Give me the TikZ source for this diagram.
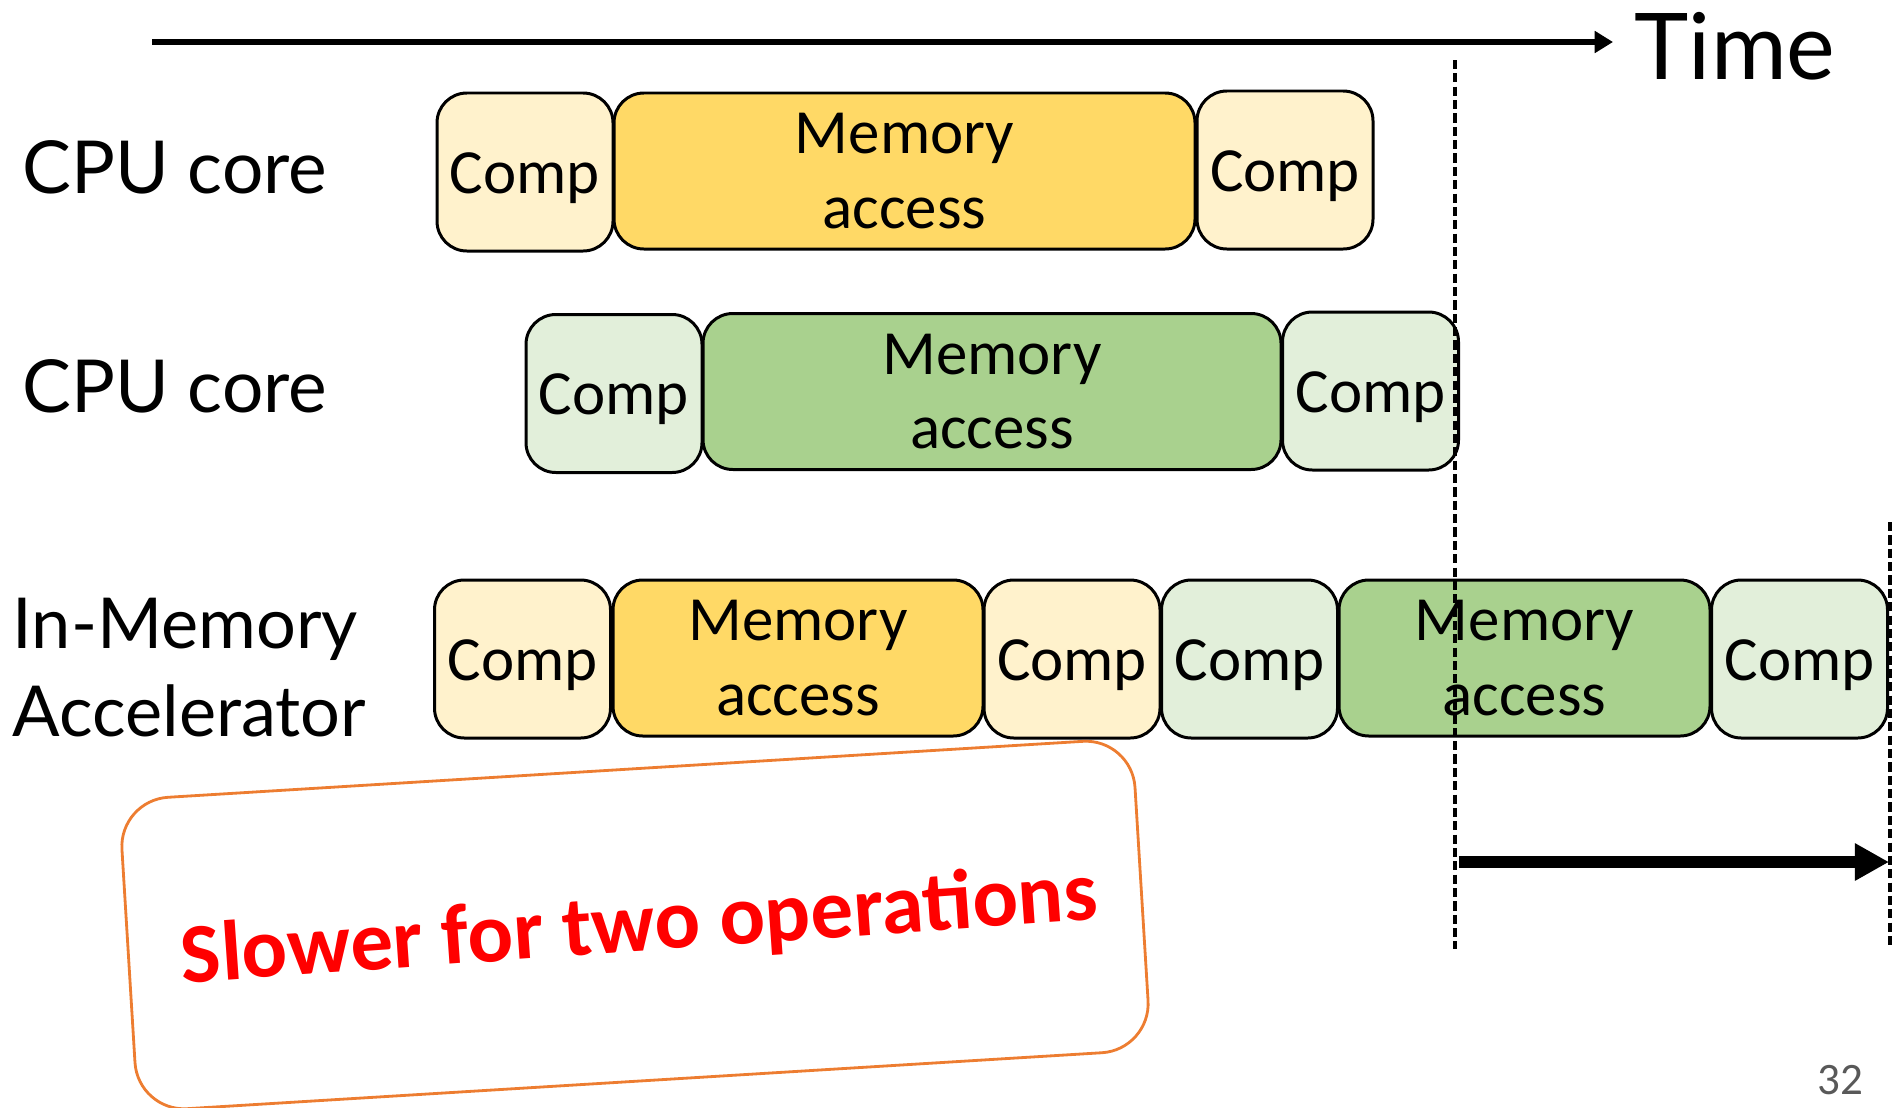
\documentclass[tikz,border=0pt]{standalone}
\usepackage{fontspec}
\setmainfont{Carlito}
\newfontfamily\gillfont{Lato}
\usepackage{tikz}
\usetikzlibrary{arrows.meta,positioning}
\definecolor{compY}{HTML}{FFF2CC}
\definecolor{memY}{HTML}{FFD966}
\definecolor{compG}{HTML}{E2EFDA}
\definecolor{memG}{HTML}{A9D18E}
\definecolor{calloutline}{HTML}{ED7D31}
\definecolor{pagegray}{HTML}{595959}

\begin{document}
\begin{tikzpicture}[x=0.1mm, y=-0.1mm,
  box/.style={draw=black, line width=0.85pt, rounded corners=8.5pt, inner sep=0pt, align=center,
    font=\fontsize{17.9}{21.3}\selectfont},
  comp/.style={box, minimum width=17.6mm, minimum height=15.8mm, text height=17pt, text depth=4.8pt},
  mem/.style={box, minimum height=15.6mm},
  rowlabel/.style={inner sep=0pt, anchor=base west, font=\gillfont\fontsize{20.8}{25}\selectfont},
  marker/.style={line width=1.3pt, dash pattern=on 2.6pt off 1.2pt}]
\useasboundingbox (0,0) rectangle (1895,1107);

\coordinate (t0) at (152,42);
\coordinate (t1) at (1613,42);
\draw[line width=1.8pt, -{Triangle[length=5.2pt, width=6pt]}] (t0) -- (t1);
\node[inner sep=0pt, anchor=base west, font=\gillfont\fontsize{26.2}{30}\selectfont] (tm) at (1634,79) {Time};

\node[rowlabel] (l1) at (22,193) {CPU core};
\node[rowlabel] (l2) at (22,412) {CPU core};
\node[rowlabel, align=left, font=\gillfont\fontsize{20}{25}\selectfont] (l3) at (12,736) {In-Memory\\Accelerator};

\node[comp, fill=compY] (c1) at (525,172) {Comp};
\node[mem, fill=memY, minimum width=58.1mm] (m1) at (904.5,171) {Memory\\access};
\node[comp, fill=compY] (c2) at (1285,170) {Comp};

\node[comp, fill=compG] (c3) at (614,393.5) {Comp};
\node[mem, fill=memG, minimum width=57.8mm] (m2) at (992,391.5) {Memory\\access};
\node[comp, fill=compG] (c4) at (1370.5,391) {Comp};

\node[comp, fill=compY] (c5) at (522.5,659) {Comp};
\node[mem, fill=memY, minimum width=37mm] (m3) at (798,658) {Memory\\access};
\node[comp, fill=compY] (c6) at (1072,659) {Comp};
\node[comp, fill=compG] (c7) at (1249.5,659) {Comp};
\node[mem, fill=memG, minimum width=37.1mm] (m4) at (1524.5,658) {Memory\\access};
\node[comp, fill=compG] (c8) at (1799.5,659) {Comp};

\coordinate (d1a) at (1455,60);
\coordinate (d1b) at (1455,949);
\coordinate (d2a) at (1890,522);
\coordinate (d2b) at (1890,949);
\draw[marker] (d1a) -- (d1b);
\draw[marker] (d2a) -- (d2b);

\coordinate (a1) at (1459,862);
\coordinate (a2) at (1889,862);
\draw[line width=3.4pt, -{Triangle[length=9.7pt, width=10pt]}] (a1) -- (a2);

\node[draw=calloutline, line width=0.8pt, rounded corners=14pt, rotate=3.5,
  minimum width=101.5mm, minimum height=31.2mm] (cb) at (635,925) {};
\node[anchor=base, rotate=4, inner sep=0pt, text=red, font=\bfseries\fontsize{24.2}{29}\selectfont] (st) at (641,951) {Slower for two operations};

\node[anchor=base, inner sep=0pt, text=pagegray, font=\fontsize{12.8}{15}\selectfont] (pg) at (1840,1094) {32};
\end{tikzpicture}
\end{document}
